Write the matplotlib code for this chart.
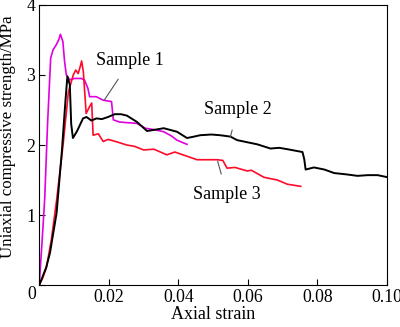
import matplotlib.pyplot as plt

plt.rcParams['font.family'] = 'Liberation Serif'

# Sample 1 (magenta)
s1_strain = [0, 0.0008, 0.0016, 0.0024, 0.0033, 0.004, 0.0049, 0.0056, 0.0061, 0.0068,
             0.0073, 0.0078, 0.0088, 0.0101, 0.0121, 0.013, 0.014, 0.0145,
             0.0164, 0.0184, 0.0208, 0.0213, 0.023, 0.025, 0.028,
             0.0305, 0.033, 0.0358, 0.038, 0.0396, 0.041, 0.0425]
s1_stress = [0, 0.6, 1.25, 2.3, 3.24, 3.36, 3.43, 3.5, 3.58, 3.48,
             3.19, 3.0, 2.93, 2.95, 2.95, 2.93, 2.81, 2.69,
             2.69, 2.64, 2.62, 2.36, 2.33, 2.32, 2.31,
             2.24, 2.22, 2.19, 2.13, 2.07, 2.04, 2.01]

# Sample 2 (black)
s2_strain = [0, 0.002, 0.0031, 0.005, 0.0065, 0.0075, 0.0081, 0.0088, 0.0092, 0.0097,
             0.0109, 0.0126, 0.0136, 0.015, 0.0165, 0.018, 0.0198, 0.0217, 0.0235,
             0.0252, 0.0281, 0.031, 0.0335, 0.0358, 0.0396, 0.0425, 0.0445, 0.0463,
             0.0495, 0.052, 0.055, 0.0569, 0.0598, 0.0627, 0.0665, 0.069, 0.0714,
             0.0757, 0.0762, 0.0766, 0.079, 0.082, 0.0848, 0.0885, 0.0915, 0.0945,
             0.0973, 0.1002]
s2_stress = [0, 0.25, 0.46, 1.03, 1.9, 2.6, 2.98, 2.86, 2.3, 2.1,
             2.2, 2.38, 2.4, 2.35, 2.38, 2.37, 2.4, 2.44, 2.44,
             2.42, 2.33, 2.2, 2.22, 2.24, 2.19, 2.1, 2.12, 2.14,
             2.15, 2.14, 2.12, 2.07, 2.04, 2.01, 1.95, 1.96, 1.94,
             1.9, 1.8, 1.65, 1.68, 1.65, 1.6, 1.58, 1.56, 1.57,
             1.57, 1.54]

# Sample 3 (red)
s3_strain = [0, 0.001, 0.0021, 0.0035, 0.005, 0.0069, 0.0084, 0.0098, 0.0105, 0.0112,
             0.0118, 0.0122, 0.0127, 0.0135, 0.0145, 0.0151, 0.0155, 0.017, 0.0184,
             0.0198, 0.022, 0.0252, 0.0275, 0.03, 0.033, 0.0367, 0.039, 0.0425,
             0.0454, 0.0512, 0.0528, 0.054, 0.0563, 0.0598, 0.061, 0.0646, 0.0685,
             0.0714, 0.0752]
s3_stress = [0, 0.1, 0.26, 0.65, 1.21, 2.02, 2.76, 3.0, 3.07, 3.02,
             3.12, 3.2, 3.04, 2.45, 2.55, 2.6, 2.14, 2.16, 2.05,
             2.08, 2.05, 2.0, 1.98, 1.93, 1.94, 1.86, 1.9, 1.84,
             1.79, 1.79, 1.78, 1.67, 1.68, 1.63, 1.64, 1.54, 1.5,
             1.44, 1.41]

fig = plt.figure(figsize=(4.0, 3.27), dpi=100)
ax = fig.add_axes([0.098, 0.128, 0.8695, 0.857])

ax.plot(s1_strain, s1_stress, color='#e000e0', lw=1.2)
ax.plot(s3_strain, s3_stress, color='#ff0a2a', lw=1.2)
ax.plot(s2_strain, s2_stress, color='black', lw=1.4)

ax.set_xlim(0, 0.10)
ax.set_ylim(0, 4)
ax.set_xticks([0, 0.02, 0.04, 0.06, 0.08, 0.10])
ax.set_xticklabels(['', '0.02', '0.04', '0.06', '0.08', '0.10'])
ax.set_yticks([0, 1, 2, 3, 4])
ax.set_yticklabels(['', '1', '2', '3', '4'])
ax.tick_params(direction='in', length=4, labelsize=12.8, pad=3)
ax.text(-0.022, -0.032, '0', transform=ax.transAxes, fontsize=12.8,
        ha='center', va='center')
ax.set_xlabel('Axial strain', fontsize=13, labelpad=0)
ax.set_ylabel('Uniaxial compressive strength/MPa', fontsize=12.2)
ax.yaxis.set_label_coords(-0.067, 0.53)

ax.annotate('Sample 1', xy=(0.0187, 2.64), xytext=(0.0262, 3.2),
            fontsize=13, ha='center', va='center',
            arrowprops=dict(arrowstyle='-', color='#555555', lw=0.8, shrinkA=6, shrinkB=0))
ax.annotate('Sample 2', xy=(0.055, 2.12), xytext=(0.057, 2.51),
            fontsize=13, ha='center', va='center',
            arrowprops=dict(arrowstyle='-', color='#555555', lw=0.8, shrinkA=7, shrinkB=0))
ax.annotate('Sample 3', xy=(0.0513, 1.77), xytext=(0.054, 1.29),
            fontsize=13, ha='center', va='center',
            arrowprops=dict(arrowstyle='-', color='#555555', lw=0.8, shrinkA=7, shrinkB=0))

fig.savefig('out.png', dpi=100)
